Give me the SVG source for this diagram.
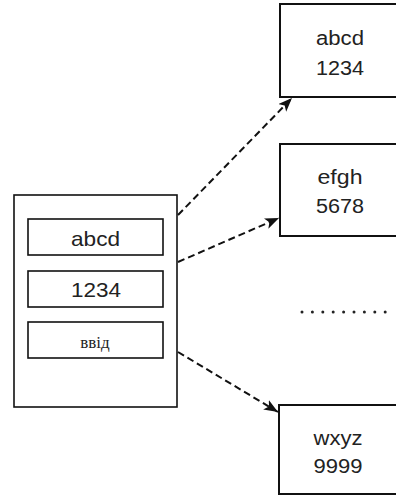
<svg xmlns="http://www.w3.org/2000/svg" width="396" height="497" viewBox="0 0 396 497">
<style>
.box{fill:#fff;stroke:#111;stroke-width:1.6}
.rbox{fill:#fff;stroke:#111;stroke-width:2}
.t{font-family:"Liberation Sans",Arial,sans-serif;font-size:20px;fill:#222;text-anchor:middle}
.tl{font-family:"Liberation Sans",Arial,sans-serif;font-size:21px;fill:#222;text-anchor:middle}
.s{font-family:"Liberation Serif","Times New Roman",serif;font-size:17px;fill:#222;text-anchor:middle}
.c{fill:none;stroke:#111;stroke-width:2;stroke-dasharray:7 4}
</style>
<defs>
<marker id="ah" markerUnits="userSpaceOnUse" markerWidth="16" markerHeight="12" refX="14" refY="5.5" orient="auto">
<path d="M0,0 L14,5.5 L0,11 L3.5,5.5 z" fill="#111"/>
</marker>
</defs>
<rect width="396" height="497" fill="#fff"/>
<g id="form">
<rect class="box" x="14" y="195" width="163" height="212"/>
</g>
<g id="field-abcd">
<rect class="box" x="28" y="219" width="135" height="36"/>
<text class="tl" x="95.5" y="246" textLength="49" lengthAdjust="spacingAndGlyphs">abcd</text>
</g>
<g id="field-1234">
<rect class="box" x="28" y="271" width="135" height="36"/>
<text class="tl" x="96" y="297" textLength="50" lengthAdjust="spacingAndGlyphs">1234</text>
</g>
<g id="field-input">
<rect class="box" x="28" y="322" width="135" height="36"/>
<text class="s" x="95" y="348">ввід</text>
</g>
<g id="rec1">
<rect class="rbox" x="280" y="4" width="130" height="93"/>
<text class="t" x="340" y="45" textLength="48" lengthAdjust="spacingAndGlyphs">abcd</text>
<text class="t" x="340" y="75" textLength="48" lengthAdjust="spacingAndGlyphs">1234</text>
</g>
<g id="rec2">
<rect class="rbox" x="280" y="144" width="130" height="92"/>
<text class="t" x="340" y="184" textLength="45" lengthAdjust="spacingAndGlyphs">efgh</text>
<text class="t" x="340" y="213" textLength="48" lengthAdjust="spacingAndGlyphs">5678</text>
</g>
<g id="ellipsis" fill="#222">
<circle cx="302" cy="312" r="1.5"/><circle cx="312.4" cy="312" r="1.5"/><circle cx="322.8" cy="312" r="1.5"/><circle cx="333.2" cy="312" r="1.5"/><circle cx="343.6" cy="312" r="1.5"/><circle cx="354" cy="312" r="1.5"/><circle cx="364.4" cy="312" r="1.5"/><circle cx="374.8" cy="312" r="1.5"/><circle cx="385.2" cy="312" r="1.5"/>
</g>
<g id="rec3">
<rect class="rbox" x="279" y="405" width="131" height="89"/>
<text class="t" x="338" y="445" textLength="49" lengthAdjust="spacingAndGlyphs">wxyz</text>
<text class="t" x="338" y="473" textLength="49" lengthAdjust="spacingAndGlyphs">9999</text>
</g>
<g id="connectors">
<line class="c" x1="178" y1="215" x2="292" y2="98" marker-end="url(#ah)"/>
<line class="c" x1="178" y1="262" x2="279" y2="218" marker-end="url(#ah)"/>
<line class="c" x1="178" y1="352" x2="278" y2="412" marker-end="url(#ah)"/>
</g>
</svg>
